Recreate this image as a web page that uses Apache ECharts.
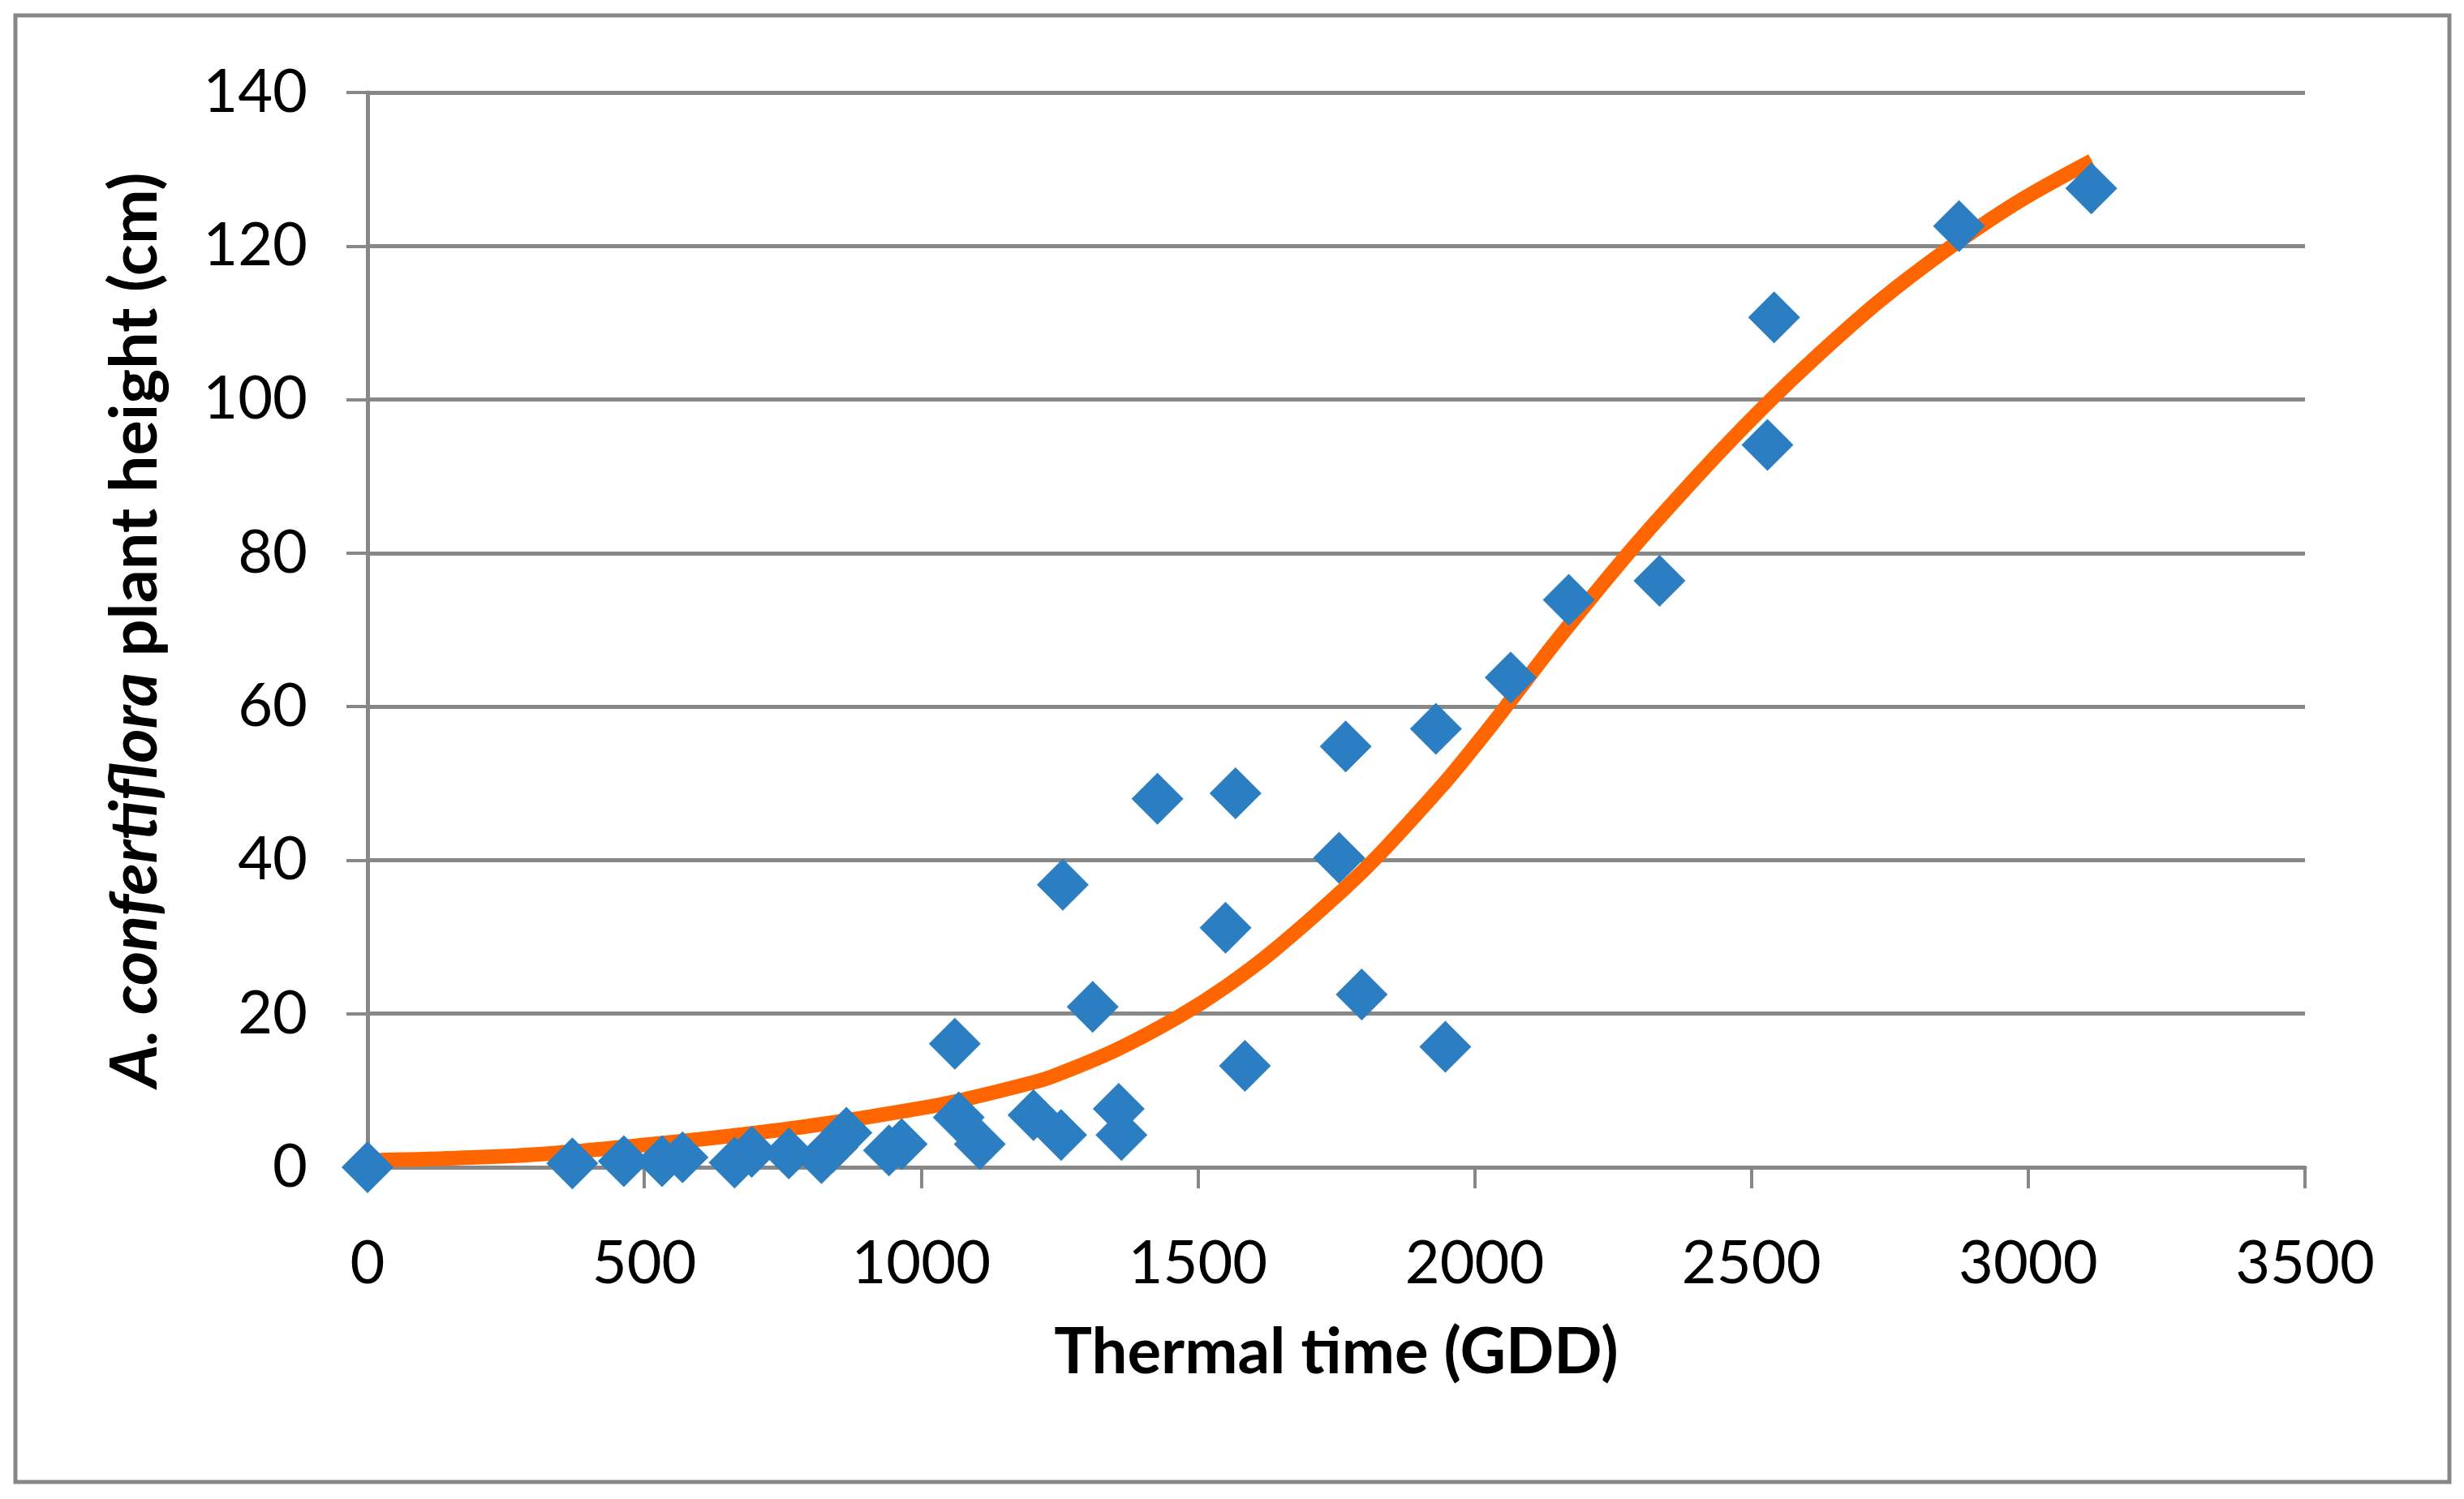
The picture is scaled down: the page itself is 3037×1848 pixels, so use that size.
<!DOCTYPE html>
<html>
<head>
<meta charset="utf-8">
<script src="https://cdn.jsdelivr.net/npm/echarts@6/dist/echarts.min.js"></script>
<style>
html,body{margin:0;padding:0;background:#fff;}
#chart{width:3037px;height:1848px;}
</style>
</head>
<body>
<div id="chart"></div>
<script>
// Observed data: thermal time (GDD) and plant height (cm)
var obsGDD = [0, 370, 463, 532, 569, 663, 694, 761, 820, 840, 865, 942, 965,
  1061, 1068, 1106, 1203, 1253, 1256, 1310, 1357, 1362, 1427, 1550, 1568, 1585,
  1755, 1767, 1796, 1930, 1947, 2065, 2170, 2334, 2529, 2541, 2875, 3114];
var obsHeight = [0, 0.5, 0.8, 0.8, 1.3, 0.6, 2.0, 1.8, 1.2, 2.6, 4.5, 2.2, 3.0,
  16.1, 6.5, 3.0, 6.8, 4.2, 36.8, 20.9, 7.6, 4.2, 48.0, 31.2, 48.7, 13.2,
  40.3, 54.8, 22.5, 57.1, 15.7, 63.8, 73.9, 76.4, 94.1, 110.7, 122.6, 127.5];

// Fitted curve
var fitGDD = [0, 160, 310, 500, 670, 820, 1000, 1070, 1200, 1240, 1350, 1465, 1550,
  1640, 1765, 1830, 1935, 1975, 2035, 2065, 2145, 2265, 2350, 2455, 2570, 2685,
  2760, 2870, 2985, 3115];
var fitHeight = [0.9, 1.2, 1.7, 2.9, 4.2, 5.6, 7.7, 8.7, 11.0, 11.9, 15.2, 19.6, 23.5,
  28.4, 36.3, 40.9, 49.2, 52.6, 58.0, 60.8, 68.3, 78.9, 85.9, 94.1, 102.4, 110.0,
  114.5, 120.4, 125.9, 131.1];

var xTicks = ['0', '500', '1000', '1500', '2000', '2500', '3000', '3500'];
var yTicks = ['0', '20', '40', '60', '80', '100', '120', '140'];

var obsData = obsGDD.map(function (x, i) { return [x, obsHeight[i]]; });
var fitData = fitGDD.map(function (x, i) { return [x, fitHeight[i]]; });

var gray = '#878787';
var font = 'Lato';

var chart = echarts.init(document.getElementById('chart'), null, {renderer: 'canvas'});
chart.setOption({
  backgroundColor: '#ffffff',
  animation: false,
  graphic: [{
    type: 'rect',
    shape: {x: 19, y: 19, width: 3000, height: 1808},
    style: {fill: 'none', stroke: gray, lineWidth: 5},
    silent: true
  }],
  grid: {left: 453, right: 196, top: 114, bottom: 409},
  xAxis: {
    type: 'value',
    min: 0, max: 3500, interval: 500,
    name: 'Thermal time (GDD)',
    nameLocation: 'middle',
    nameGap: 190,
    nameTextStyle: {fontFamily: font, fontSize: 78, fontWeight: 'bold', color: '#000'},
    axisLine: {show: true, onZero: false, lineStyle: {color: gray, width: 5}},
    axisTick: {show: true, length: 26, lineStyle: {color: gray, width: 4}},
    axisLabel: {
      margin: 82, fontFamily: font, fontSize: 74, color: '#000',
      formatter: function (v) { return xTicks[Math.round(v / 500)]; }
    },
    splitLine: {show: false}
  },
  yAxis: {
    type: 'value',
    min: 0, max: 140, interval: 20,
    name: '{i|A. confertiflora} plant height (cm)',
    nameLocation: 'middle',
    nameRotate: 90,
    nameGap: 246,
    nameTextStyle: {
      fontFamily: font, fontSize: 81, fontWeight: 'bold', color: '#000',
      rich: {i: {fontFamily: font, fontSize: 81, fontWeight: 'bold', fontStyle: 'italic', color: '#000'}}
    },
    axisLine: {show: true, lineStyle: {color: gray, width: 5}},
    axisTick: {show: true, length: 26, lineStyle: {color: gray, width: 4}},
    axisLabel: {
      margin: 74, fontFamily: font, fontSize: 74, color: '#000',
      formatter: function (v) { return yTicks[Math.round(v / 20)]; }
    },
    splitLine: {show: true, lineStyle: {color: gray, width: 5}}
  },
  series: [
    {
      type: 'line',
      data: fitData,
      smooth: 0.35,
      showSymbol: false,
      symbol: 'none',
      lineStyle: {color: '#FF6600', width: 18},
      z: 2
    },
    {
      type: 'scatter',
      data: obsData,
      symbol: 'diamond',
      symbolSize: 64,
      itemStyle: {color: '#2A7EC1', opacity: 1},
      z: 3
    }
  ]
});
</script>
</body>
</html>
